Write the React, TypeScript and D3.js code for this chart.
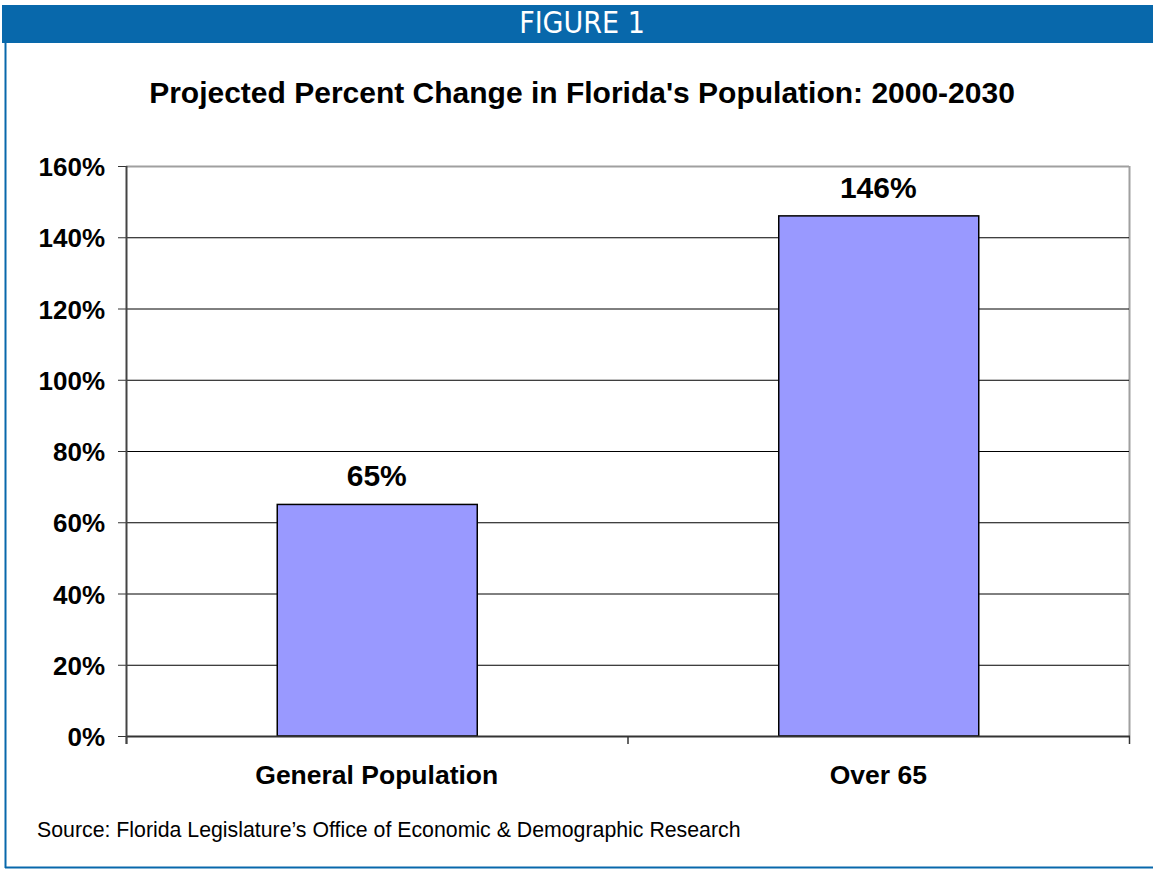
import React from "react";
import * as d3 from "d3";

const categories = ["General Population", "Over 65"];
const values = [65, 146];
const yTicks = [0, 20, 40, 60, 80, 100, 120, 140, 160];

const W = 1153;
const H = 869;
const M = { left: 126, right: 1129, top: 166, bottom: 736 };

export default function App() {
  const x = d3.scaleBand<string>().domain(categories).range([M.left, M.right]).paddingInner(0).paddingOuter(0);
  const y = d3.scaleLinear().domain([0, 160]).range([M.bottom, M.top]);
  const bw = 200;
  const font = "Arial, 'Liberation Sans', Helvetica, sans-serif";
  const boundaries = [M.left, ...categories.map((c) => (x(c) as number) + x.bandwidth())];
  return (
    <svg width={W} height={H} style={{ position: "absolute", left: 0, top: 0 }} fontFamily={font}>
      <rect x={0} y={0} width={W} height={H} fill="#fff" />
      {/* header band */}
      <rect x={2} y={5} width={W - 2} height={38} fill="#0868ab" />
      <text x={582} y={33} textAnchor="middle" fill="#fff" fontSize={30} fontFamily="'DejaVu Sans Condensed', 'DejaVu Sans', sans-serif" style={{ fontStretch: "condensed" }}>FIGURE 1</text>
      {/* frame */}
      <line x1={5.5} y1={43} x2={5.5} y2={868} stroke="#0868ab" strokeWidth={2} />
      <line x1={5} y1={867.5} x2={W} y2={867.5} stroke="#0868ab" strokeWidth={2} />
      {/* title */}
      <text x={582} y={103} textAnchor="middle" fontWeight="bold" fontSize={30} fill="#000">Projected Percent Change in Florida's Population: 2000-2030</text>
      {/* plot border */}
      <line x1={M.left} y1={M.top + 0.5} x2={M.right} y2={M.top + 0.5} stroke="#a0a0a0" strokeWidth={2} />
      <line x1={M.right + 0.5} y1={M.top} x2={M.right + 0.5} y2={M.bottom} stroke="#a0a0a0" strokeWidth={2} />
      {/* gridlines */}
      {yTicks.filter((t) => t > 0 && t < 160).map((t) => (
        <line key={t} x1={M.left} x2={M.right} y1={y(t) + 0.5} y2={y(t) + 0.5} stroke="#000" strokeWidth={1} />
      ))}
      {/* y ticks and labels */}
      {yTicks.map((t) => (
        <g key={"yt" + t}>
          <line x1={118} x2={M.left} y1={y(t) + 0.5} y2={y(t) + 0.5} stroke="#333" strokeWidth={1} />
          <text x={105} y={y(t) + 10} textAnchor="end" fontWeight="bold" fontSize={26} fill="#000">{t}%</text>
        </g>
      ))}
      {/* bars */}
      {categories.map((c, i) => {
        const cx = (x(c) as number) + x.bandwidth() / 2;
        return (
          <g key={c}>
            <rect x={cx - bw / 2 + 0.5} y={y(values[i])} width={bw} height={M.bottom - y(values[i])} fill="#9999ff" stroke="#000" strokeWidth={1.5} />
            <text x={cx} y={y(values[i]) - 18} textAnchor="middle" fontWeight="bold" fontSize={30} fill="#000">{values[i]}%</text>
            <text x={cx} y={784} textAnchor="middle" fontWeight="bold" fontSize={26.5} fill="#000">{c}</text>
          </g>
        );
      })}
      {/* axes */}
      <line x1={M.left} x2={M.right + 1} y1={M.bottom + 0.5} y2={M.bottom + 0.5} stroke="#333" strokeWidth={2} />
      {boundaries.map((b, i) => (
        <line key={"xt" + i} x1={b + 0.5} x2={b + 0.5} y1={M.bottom} y2={744} stroke="#333" strokeWidth={1.5} />
      ))}
      <line x1={M.left + 0.5} x2={M.left + 0.5} y1={M.top} y2={744} stroke="#444" strokeWidth={2} />
      {/* source */}
      <text x={37} y={837} fontSize={21.3} fill="#000">Source: Florida Legislature’s Office of Economic &amp; Demographic Research</text>
    </svg>
  );
}
